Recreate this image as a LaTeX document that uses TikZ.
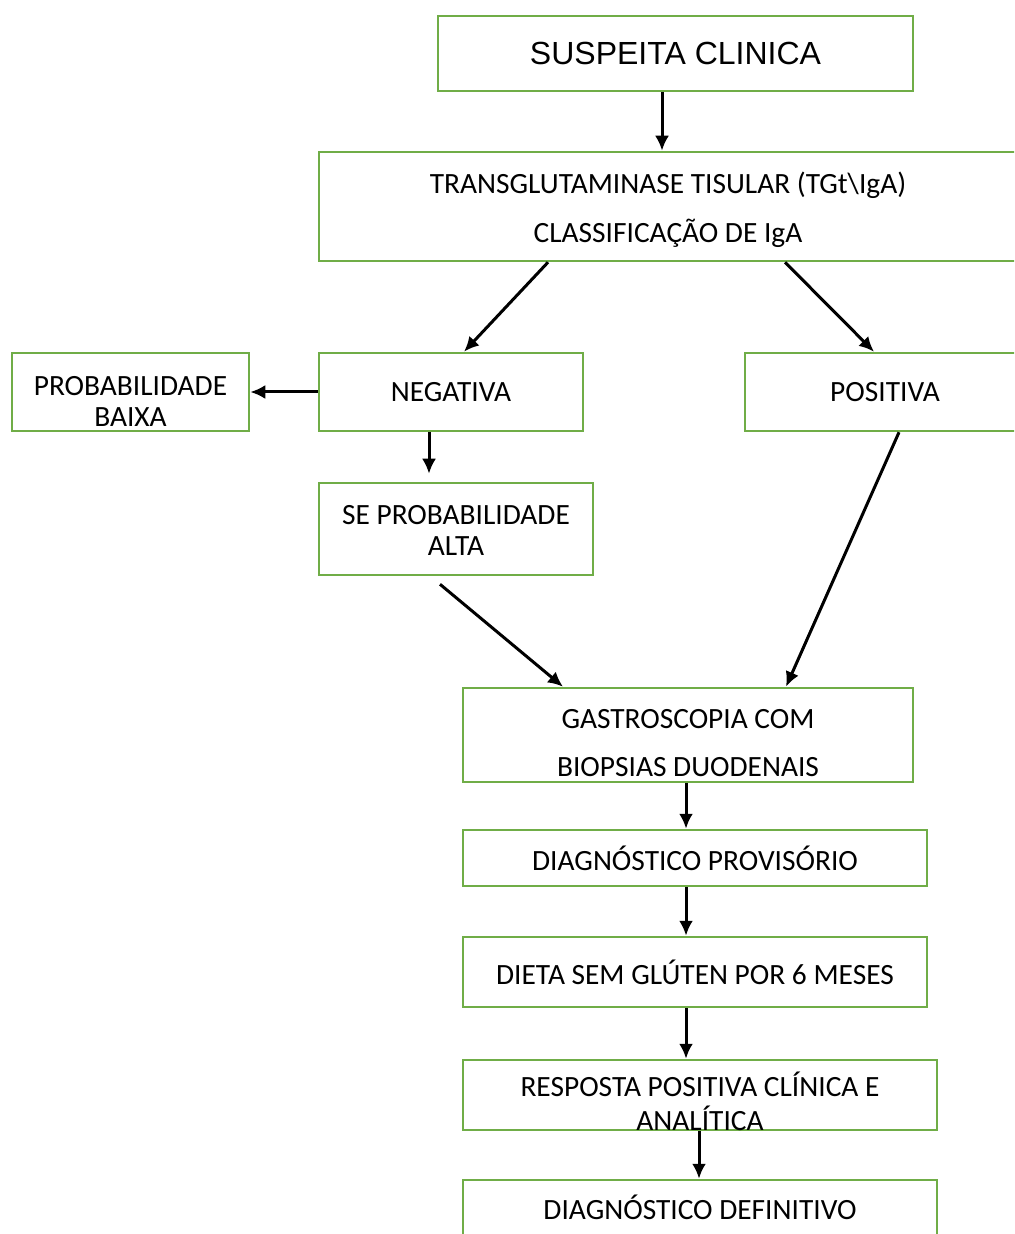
\documentclass[tikz,border=0pt]{standalone}
\usepackage{fontspec}
\setmainfont{Carlito}
\newfontfamily\arialfont{Liberation Sans}
\usetikzlibrary{arrows.meta}
\definecolor{boxgreen}{RGB}{112,173,71}
% two centred lines, baseline on the last one
\newcommand{\stacktext}[3][0pt]{\begin{tabular}[b]{@{}c@{}}#2\\[#1]#3\end{tabular}}

\begin{document}
\begin{tikzpicture}[x=0.5pt, y=-0.5pt, >={Latex[length=7.5pt,width=7pt]},
    box/.style={draw=boxgreen, line width=1.25pt, inner sep=0pt, align=center,
        font=\fontsize{14.7}{15.5}\selectfont},
    lowtext/.style={text height=#1, text depth=0pt},
    arr/.style={->, line width=1.5pt}]
    \useasboundingbox (0,0) rectangle (1014,1234);
    \clip (0,0) rectangle (1014,1234);

    % Boxes
    \node[box, minimum width=237.5pt, minimum height=37.5pt, font=\arialfont\fontsize{16}{19}\selectfont]
        (sus) at (675.5,53.5) {SUSPEITA CLINICA};
    \node[box, minimum width=349pt, minimum height=54.5pt, lowtext=35.8pt]
        (tgt) at (668,206.5) {\stacktext[8pt]{TRANSGLUTAMINASE TISULAR (TGt\textbackslash IgA)}{CLASSIFICAÇÃO DE IgA}};
    \node[box, minimum width=132pt, minimum height=39pt] (neg) at (451,392) {NEGATIVA};
    \node[box, minimum width=118.5pt, minimum height=39pt, lowtext=34.8pt]
        (baixa) at (130.5,392) {\stacktext{PROBABILIDADE}{BAIXA}};
    \node[box, minimum width=140pt, minimum height=39pt] (pos) at (885,392) {POSITIVA};
    \node[box, minimum width=137pt, minimum height=46pt, lowtext=26.8pt]
        (alta) at (456,529) {\stacktext{SE PROBABILIDADE}{ALTA}};
    \node[box, minimum width=225pt, minimum height=47pt, lowtext=41.3pt]
        (gastro) at (688,735) {\stacktext[8.5pt]{GASTROSCOPIA COM}{BIOPSIAS DUODENAIS}};
    \node[box, minimum width=232pt, minimum height=28pt] (prov) at (695,858) {DIAGNÓSTICO PROVISÓRIO};
    \node[box, minimum width=232pt, minimum height=35pt] (dieta) at (695,972) {DIETA SEM GLÚTEN POR 6 MESES};
    \node[box, minimum width=237pt, minimum height=35pt, lowtext=35pt]
        (resp) at (700,1095) {\stacktext{RESPOSTA POSITIVA CLÍNICA E}{ANALÍTICA}};
    \node[box, minimum width=237pt, minimum height=35pt, lowtext=4.5pt]
        (def) at (700,1215) {DIAGNÓSTICO DEFINITIVO};

    % Arrows
    \draw[arr] ([shift={(-13.5,0)}]sus.south) -- ([shift={(-6,0)}]tgt.north);
    \draw[arr] ([shift={(-120,0)}]tgt.south) -- ([shift={(13,0)}]neg.north);
    \draw[arr] ([shift={(117,0)}]tgt.south) -- ([shift={(-11,0)}]pos.north);
    \draw[arr] (neg.west) -- (baixa.east);
    \draw[arr] ([shift={(-22,0)}]neg.south) -- ([shift={(-27,-8)}]alta.north);
    \draw[arr] ([shift={(-16,8)}]alta.south) -- ([shift={(-125,0)}]gastro.north);
    \draw[arr] ([shift={(14,0)}]pos.south) -- ([shift={(98,0)}]gastro.north);
    \draw[arr] ([shift={(-2,0)}]gastro.south) -- ([shift={(-9,0)}]prov.north);
    \draw[arr] ([shift={(-9,0)}]prov.south) -- ([shift={(-9,0)}]dieta.north);
    \draw[arr] ([shift={(-9,0)}]dieta.south) -- ([shift={(-14,0)}]resp.north);
    \draw[arr] ([shift={(-1,0)}]resp.south) -- ([shift={(-1,0)}]def.north);
\end{tikzpicture}
\end{document}
